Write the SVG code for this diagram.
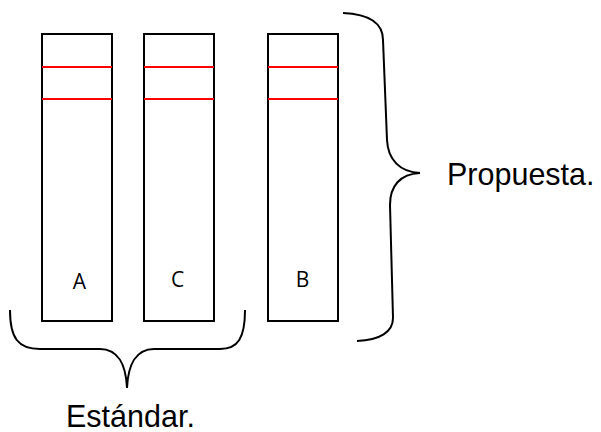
<svg xmlns="http://www.w3.org/2000/svg" width="601" height="432" viewBox="0 0 601 432">
<style>
.box{fill:#fff;stroke:#000;stroke-width:2}
.red{stroke:#f00;stroke-width:2}
.br{fill:none;stroke:#000;stroke-width:2}
.lbl{font-family:"Open Sans","Noto Sans",sans-serif;font-size:21px;fill:#000;text-anchor:middle}
.cap{font-family:"Liberation Sans",Arial,sans-serif;font-size:30.5px;fill:#000}
</style>
<rect width="601" height="432" fill="#fff"/>
<g id="A">
<rect class="box" x="42" y="34" width="70" height="287"/>
<line class="red" x1="42" y1="67" x2="112" y2="67"/>
<line class="red" x1="42" y1="99" x2="112" y2="99"/>
<text class="lbl" x="79.5" y="289">A</text>
</g>
<g id="C">
<rect class="box" x="144" y="34" width="70" height="287"/>
<line class="red" x1="144" y1="67" x2="214" y2="67"/>
<line class="red" x1="144" y1="99" x2="214" y2="99"/>
<text class="lbl" x="177.5" y="287">C</text>
</g>
<g id="B">
<rect class="box" x="268" y="34" width="70" height="287"/>
<line class="red" x1="268" y1="67" x2="338" y2="67"/>
<line class="red" x1="268" y1="99" x2="338" y2="99"/>
<text class="lbl" x="302.5" y="287">B</text>
</g>
<g id="connectors">
<path class="br" d="M343 13 C370 14 383 24 383 40 L387 140 C388 160 400 172 420 173 C400 174 390 186 390 205 L393 318 C393 332 380 340 357 341"/>
<path class="br" d="M10 310 C10 338 18 349 40 349 L100 349 C118 349 126 365 127 388 C128 365 136 349 154 349 L220 349 C238 349 245 338 245 310"/>
</g>
<g id="Propuesta">
<text class="cap" x="447" y="185">Propuesta.</text>
</g>
<g id="Estandar">
<text class="cap" x="66" y="427">Estándar.</text>
</g>
</svg>
